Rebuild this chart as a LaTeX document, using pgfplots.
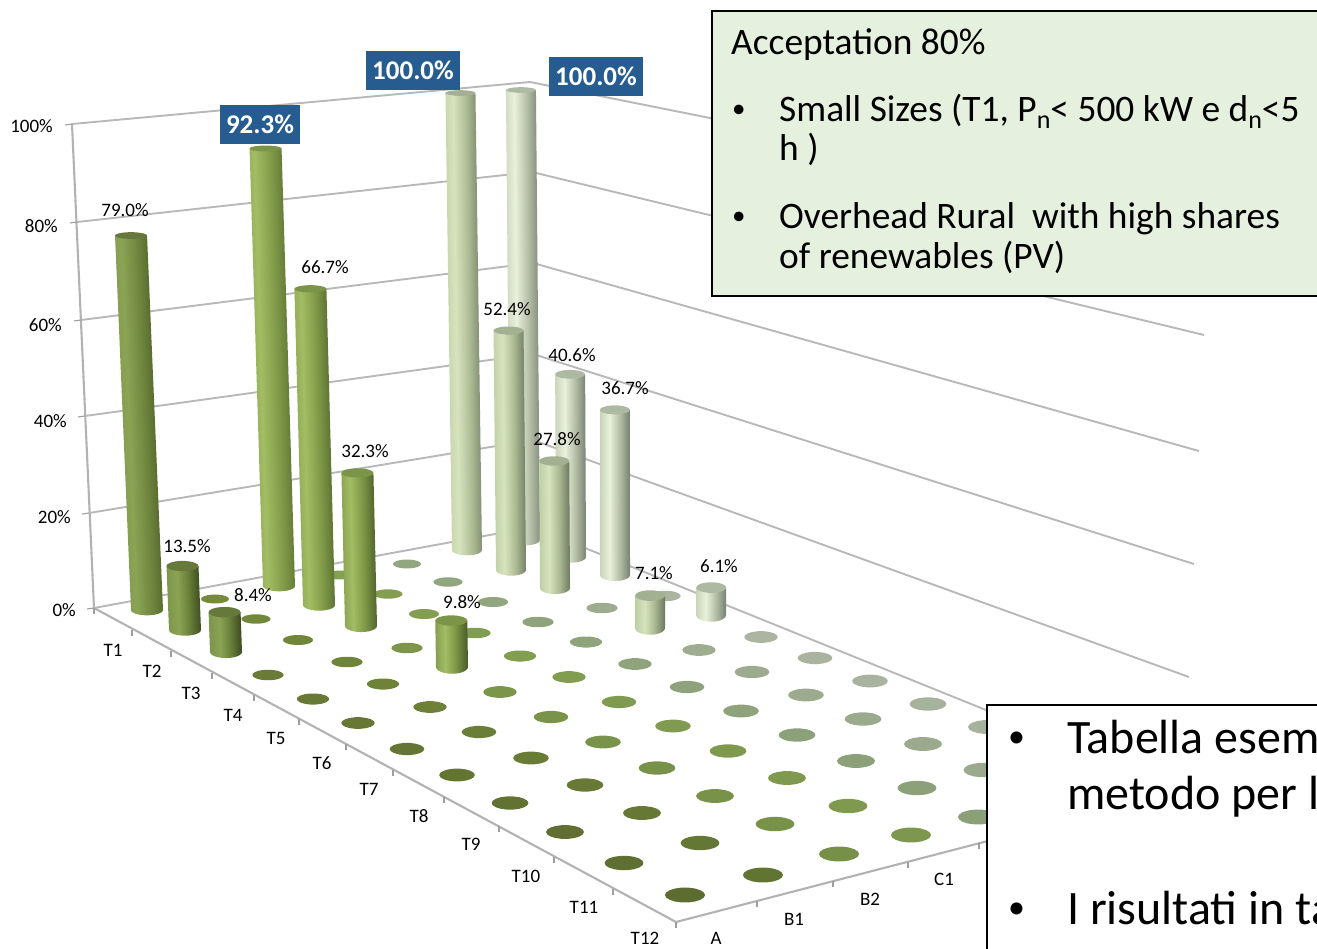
\documentclass[border=0pt]{standalone}
\usepackage{fontspec}
\setmainfont[Ligatures={Common,Rare}]{Carlito}
\usepackage{pgfplots}
\usepackage{pgfplotstable}
\pgfplotsset{compat=1.18}

% Base colours of the floor discs, one per column, front rows get darker
\definecolor{c0}{HTML}{6F8139}
\definecolor{c1}{HTML}{758A3C}
\definecolor{c2}{HTML}{7D984C}
\definecolor{c3}{HTML}{84A052}
\definecolor{c4}{HTML}{92A77F}
\definecolor{c5}{HTML}{A1B092}
\definecolor{c6}{HTML}{AEB9A4}
\foreach \cc in {0,...,6}{\foreach \rr in {1,...,12}{%
  \pgfmathtruncatemacro\k{100-(\rr-1)*(\cc<2?1.4:0.4)}%
  \xglobal\colorlet{dc\cc r\rr}{c\cc!\k!black}}}

% Cylinder caps and bodies; the body fills the middle 50bp of each shading
\definecolor{top0}{HTML}{66783A}
\definecolor{top2}{HTML}{7A9448}
\definecolor{top5}{HTML}{A3B092}
\definecolor{top6}{HTML}{AEB9A2}
\definecolor{s0a}{RGB}{124,148,76}\definecolor{s0b}{RGB}{138,163,84}\definecolor{s0c}{RGB}{108,130,60}\definecolor{s0d}{RGB}{58,72,28}
\definecolor{s2a}{RGB}{132,158,80}\definecolor{s2b}{RGB}{163,189,100}\definecolor{s2c}{RGB}{124,150,70}\definecolor{s2d}{RGB}{72,90,38}
\definecolor{s5a}{RGB}{190,206,164}\definecolor{s5b}{RGB}{215,227,189}\definecolor{s5c}{RGB}{172,186,148}\definecolor{s5d}{RGB}{108,118,94}
\definecolor{s6a}{RGB}{200,212,184}\definecolor{s6b}{RGB}{233,240,220}\definecolor{s6c}{RGB}{182,192,168}\definecolor{s6d}{RGB}{118,128,112}
\pgfdeclarehorizontalshading{cyl0}{100bp}{color(0bp)=(s0a);color(25bp)=(s0a);color(42bp)=(s0b);color(56bp)=(s0c);color(75bp)=(s0d);color(100bp)=(s0d)}
\pgfdeclarehorizontalshading{cyl2}{100bp}{color(0bp)=(s2a);color(25bp)=(s2a);color(40bp)=(s2b);color(56bp)=(s2c);color(75bp)=(s2d);color(100bp)=(s2d)}
\pgfdeclarehorizontalshading{cyl5}{100bp}{color(0bp)=(s5a);color(25bp)=(s5a);color(41bp)=(s5b);color(57bp)=(s5c);color(75bp)=(s5d);color(100bp)=(s5d)}
\pgfdeclarehorizontalshading{cyl6}{100bp}{color(0bp)=(s6a);color(25bp)=(s6a);color(41bp)=(s6b);color(57bp)=(s6c);color(75bp)=(s6d);color(100bp)=(s6d)}

% Floor discs of the zero values: column, row, position on the page
\pgfplotstableread{
col row x y
0 4 268 675
0 5 313 699
0 6 358 723
0 7 407 749
0 8 457 775
0 9 510 803
0 10 565 832
0 11 624 863
0 12 685 895
1 1 215 599
1 2 256 619
1 3 298 640
1 4 347 662
1 5 383 684
1 6 430 707
1 7 479 732
1 8 531 758
1 9 585 785
1 10 642 813
1 11 700 843
1 12 763 875
2 4 407 648
2 6 500 692
2 7 551 717
2 8 603 742
2 9 657 768
2 10 715 796
2 11 775 824
2 12 839 854
3 1 340 575
3 2 388 594
3 3 424 614
3 4 475 633
3 5 520 656
3 6 569 677
3 7 619 702
3 8 673 726
3 9 728 751
3 10 787 778
3 11 848 806
3 12 911 835
4 1 407 564
4 2 448 582
4 3 493 602
4 4 538 622
4 5 586 642
4 6 635 664
4 7 687 687
4 8 741 711
4 9 797 735
4 10 856 761
4 11 917 788
4 12 978 817
5 4 602 608
5 6 699 650
5 7 752 672
5 8 806 695
5 9 863 719
5 10 923 744
5 11 983 770
6 4 665 596
6 6 761 637
6 7 815 658
6 8 870 681
6 9 928 704
6 10 987 727
}\discs

% Cylinders, back to front: column, row, foot, value, label position, boxed label
\pgfplotstableread{
col row bx by value lx ly boxed
6 1 525 540 100.0 596 76 1
5 1 467 550 100.0 413 70 1
2 1 279 586 92.3 260 124 1
0 1 147 610 79.0 125 210 0
6 2 571 557 40.6 572 355 0
5 2 511 570 52.4 507 309 0
2 2 319 605 66.7 325 267 0
0 2 185 630 13.5 187 546 0
6 3 615 575 36.7 625 388 0
5 3 555 588 27.8 557 439 0
2 3 361 626 32.3 365 451 0
0 3 226 652 8.4 253 595 0
6 5 711 615 6.1 719 566 0
5 5 650 628 7.1 654 573 0
2 5 452 667 9.8 462 602 0
}\cylinders

% Collects the outline of an ellipse into \pts
\newcommand\ellipsepts[4]{%
  \gdef\pts{}%
  \foreach \a in {0,20,...,340}{%
    \pgfmathsetmacro\px{#1+#3*cos(\a)}%
    \pgfmathsetmacro\py{#2+#4*sin(\a)}%
    \xdef\pts{\pts(\px,\py)}}}

\definecolor{labelblue}{HTML}{265C8F}
\definecolor{notegreen}{HTML}{E6F0DF}
\tikzset{
  gridln/.style={draw=black!28,line width=1.9pt},
  axisln/.style={draw=black!30,line width=2.1pt},
  tickln/.style={draw=black!38,line width=1.1pt},
  axlab/.style={font=\fontsize{19}{22}\selectfont,inner sep=0pt,text=black},
  lab0/.style={font=\fontsize{19}{22}\selectfont,inner sep=0pt,text=black,anchor=center},
  lab1/.style={font=\fontsize{27}{30}\selectfont\bfseries,text=white,fill=labelblue,
    inner xsep=6.5pt,inner ysep=0pt,minimum height=39pt,anchor=center},
  noteA/.style={font=\fontsize{37.4}{40}\selectfont,anchor=base west,inner sep=0pt},
  noteB/.style={font=\fontsize{48}{56}\selectfont,anchor=base west,inner sep=0pt},
  bulA/.style={font=\fontsize{27}{30}\selectfont,anchor=base west,inner sep=0pt},
  bulB/.style={font=\fontsize{34}{36}\selectfont,anchor=base west,inner sep=0pt},
}
\newcommand\subn{\raisebox{-0.2em}{\fontsize{26}{28}\selectfont n}}

\begin{document}
\begin{tikzpicture}
\useasboundingbox (0,0) rectangle (1317pt,948pt);
\begin{axis}[
  at={(0,0)},anchor=south west,
  scale only axis,width=1317pt,height=948pt,
  xmin=0,xmax=1317,ymin=0,ymax=948,y dir=reverse,
  hide axis,clip=true,
]
% Left wall
\addplot[axisln] coordinates {(72,124)(94,608)};
\addplot[gridln] coordinates {(72,124)(530,82)};
\addplot[gridln] coordinates {(77,222)(532,172)};
\addplot[gridln] coordinates {(81,320)(533,263)};
\addplot[gridln] coordinates {(85,416)(533,354)};
\addplot[gridln] coordinates {(89,513)(533,440)};
\addplot[gridln] coordinates {(94,608)(533,527)};
% Right wall
\addplot[gridln] coordinates {(530,82)(1210,218)};
\addplot[gridln] coordinates {(532,172)(1204,335)};
\addplot[gridln] coordinates {(533,263)(1199,451)};
\addplot[gridln] coordinates {(533,354)(1194,564)};
\addplot[gridln] coordinates {(533,440)(1189,677)};
\addplot[gridln] coordinates {(533,527)(1184,790)};
% Floor edges
\addplot[axisln] coordinates {(94,608)(676,922)};
\addplot[axisln] coordinates {(676,922)(1184,790)};
% Value ticks
\addplot[tickln] coordinates {(72,124)(65,125)};
\addplot[tickln] coordinates {(77,222)(70,223)};
\addplot[tickln] coordinates {(81,320)(74,321)};
\addplot[tickln] coordinates {(85,416)(78,417)};
\addplot[tickln] coordinates {(89,513)(82,514)};
\addplot[tickln] coordinates {(94,608)(87,609)};
% Row ticks
\addplot[tickln] coordinates {(94,608)(94,614)};
\addplot[tickln] coordinates {(132,630)(132,636)};
\addplot[tickln] coordinates {(171,651)(171,657)};
\addplot[tickln] coordinates {(212,673)(212,679)};
\addplot[tickln] coordinates {(254,695)(254,701)};
\addplot[tickln] coordinates {(299,719)(299,725)};
\addplot[tickln] coordinates {(346,744)(346,750)};
\addplot[tickln] coordinates {(393,770)(393,776)};
\addplot[tickln] coordinates {(444,797)(444,803)};
\addplot[tickln] coordinates {(499,826)(499,832)};
\addplot[tickln] coordinates {(554,857)(554,863)};
\addplot[tickln] coordinates {(613,889)(613,895)};
\addplot[tickln] coordinates {(676,922)(676,928)};
% Column ticks
\addplot[tickln] coordinates {(757,901)(757,907)};
\addplot[tickln] coordinates {(833,881)(833,887)};
\addplot[tickln] coordinates {(908,862)(908,868)};
\addplot[tickln] coordinates {(979,843)(979,849)};

% Floor discs for the zero values
\pgfplotstablegetrowsof{\discs}
\pgfmathtruncatemacro\ndiscs{\pgfplotsretval-1}
\pgfplotsinvokeforeach{0,...,\ndiscs}{%
  \pgfplotstablegetelem{#1}{col}\of\discs\let\dcol\pgfplotsretval
  \pgfplotstablegetelem{#1}{row}\of\discs\let\drow\pgfplotsretval
  \pgfplotstablegetelem{#1}{x}\of\discs\let\dx\pgfplotsretval
  \pgfplotstablegetelem{#1}{y}\of\discs\let\dy\pgfplotsretval
  \pgfmathsetmacro\drx{14+(\drow-1)*6/11}%
  \pgfmathsetmacro\dry{4.5+(\drow-1)*3/11}%
  \ellipsepts{\dx}{\dy}{\drx}{\dry}%
  \edef\temp{\noexpand\addplot[draw=none,fill=dc\dcol r\drow]
    coordinates {\pts} --cycle;}\temp
}

% Cylinders: the top of each one is worked out from its value
\pgfplotstablegetrowsof{\cylinders}
\pgfmathtruncatemacro\ncyl{\pgfplotsretval-1}
\pgfplotsinvokeforeach{0,...,\ncyl}{%
  \pgfplotstablegetelem{#1}{col}\of\cylinders\let\bcol\pgfplotsretval
  \pgfplotstablegetelem{#1}{row}\of\cylinders\let\brow\pgfplotsretval
  \pgfplotstablegetelem{#1}{bx}\of\cylinders\let\bx\pgfplotsretval
  \pgfplotstablegetelem{#1}{by}\of\cylinders\let\by\pgfplotsretval
  \pgfplotstablegetelem{#1}{value}\of\cylinders\let\bval\pgfplotsretval
  \pgfmathsetmacro\hs{\bcol<3?4.74:(\bcol<6?4.57:4.50)}%
  \pgfmathsetmacro\rx{\bcol<3?16:15}%
  \pgfmathsetmacro\ry{5+0.35*\brow}%
  \pgfmathsetmacro\tx{\bx+(\bx-620)*0.000428*\bval}%
  \pgfmathsetmacro\ty{\by-\hs*\bval}%
  \pgfmathsetmacro\try{5.5-2.7*\bval/100}%
  \pgfmathsetmacro\tilt{atan((\bx-\tx)/(\by-\ty))}%
  \pgfmathsetmacro\tl{\tx-\rx}\pgfmathsetmacro\tr{\tx+\rx}%
  \pgfmathsetmacro\bl{\bx-\rx}\pgfmathsetmacro\br{\bx+\rx}%
  \gdef\pts{}%
  \foreach \a in {15,30,...,165}{%
    \pgfmathsetmacro\px{\bx+\rx*cos(\a)}%
    \pgfmathsetmacro\py{\by+\ry*sin(\a)}%
    \xdef\pts{\pts(\px,\py)}}%
  \edef\temp{\noexpand\addplot[draw=none,shading=cyl\bcol,shading angle=\tilt]
    coordinates {(\tl,\ty)(\tr,\ty)(\br,\by)\pts(\bl,\by)} --cycle;}\temp
  \ellipsepts{\tx}{\ty}{\rx}{\try}%
  \edef\temp{\noexpand\addplot[draw=none,fill=top\bcol]
    coordinates {\pts} --cycle;}\temp
}

% Value labels
\pgfplotsinvokeforeach{0,...,\ncyl}{%
  \pgfplotstablegetelem{#1}{value}\of\cylinders\let\bval\pgfplotsretval
  \pgfplotstablegetelem{#1}{lx}\of\cylinders\let\lx\pgfplotsretval
  \pgfplotstablegetelem{#1}{ly}\of\cylinders\let\ly\pgfplotsretval
  \pgfplotstablegetelem{#1}{boxed}\of\cylinders\let\boxed\pgfplotsretval
  \edef\temp{\noexpand\node[lab\boxed] at (axis cs:\lx,\ly) {\bval\noexpand\%};}\temp
}

% Value axis labels
\node[axlab,anchor=east] at (axis cs:53,126) {100\%};
\node[axlab,anchor=east] at (axis cs:58,226) {80\%};
\node[axlab,anchor=east] at (axis cs:62,325) {60\%};
\node[axlab,anchor=east] at (axis cs:67,421) {40\%};
\node[axlab,anchor=east] at (axis cs:71,517) {20\%};
\node[axlab,anchor=east] at (axis cs:76,610) {0\%};
% Row labels
\node[axlab] at (axis cs:113,650) {T1};
\node[axlab] at (axis cs:152,671) {T2};
\node[axlab] at (axis cs:191,693) {T3};
\node[axlab] at (axis cs:233,715) {T4};
\node[axlab] at (axis cs:276,738) {T5};
\node[axlab] at (axis cs:322,763) {T6};
\node[axlab] at (axis cs:369,789) {T7};
\node[axlab] at (axis cs:419,816) {T8};
\node[axlab] at (axis cs:471,844) {T9};
\node[axlab] at (axis cs:526,876) {T10};
\node[axlab] at (axis cs:584,907) {T11};
\node[axlab] at (axis cs:645,938) {T12};
% Column labels
\node[axlab] at (axis cs:716,938) {A};
\node[axlab] at (axis cs:794,919) {B1};
\node[axlab] at (axis cs:870,899) {B2};
\node[axlab] at (axis cs:944,879) {C1};

% Green note
\fill[notegreen,draw=black,line width=2pt] (axis cs:712,11) rectangle (axis cs:1340,296);
\node[noteA] at (axis cs:731,54) {Acceptation 80\%};
\node[bulA] at (axis cs:732,117) {•};
\node[noteA] at (axis cs:779,121) {Small Sizes (T1, P\subn< 500 kW e d\subn<5};
\node[noteA] at (axis cs:779,160) {h )};
\node[bulA] at (axis cs:732,224) {•};
\node[noteA] at (axis cs:779,228) {Overhead Rural\ \ with high shares};
\node[noteA] at (axis cs:779,268) {of renewables (PV)};

% White note
\fill[white,draw=black,line width=2.2pt] (axis cs:987,705) rectangle (axis cs:1340,970);
\node[bulB] at (axis cs:1008,747) {•};
\node[noteB] at (axis cs:1067,753) {Tabella esem};
\node[noteB] at (axis cs:1067,809) {metodo per l};
\node[bulB] at (axis cs:1008,918) {•};
\node[noteB] at (axis cs:1067,924) {I risultati in ta};
\end{axis}
\end{tikzpicture}
\end{document}
